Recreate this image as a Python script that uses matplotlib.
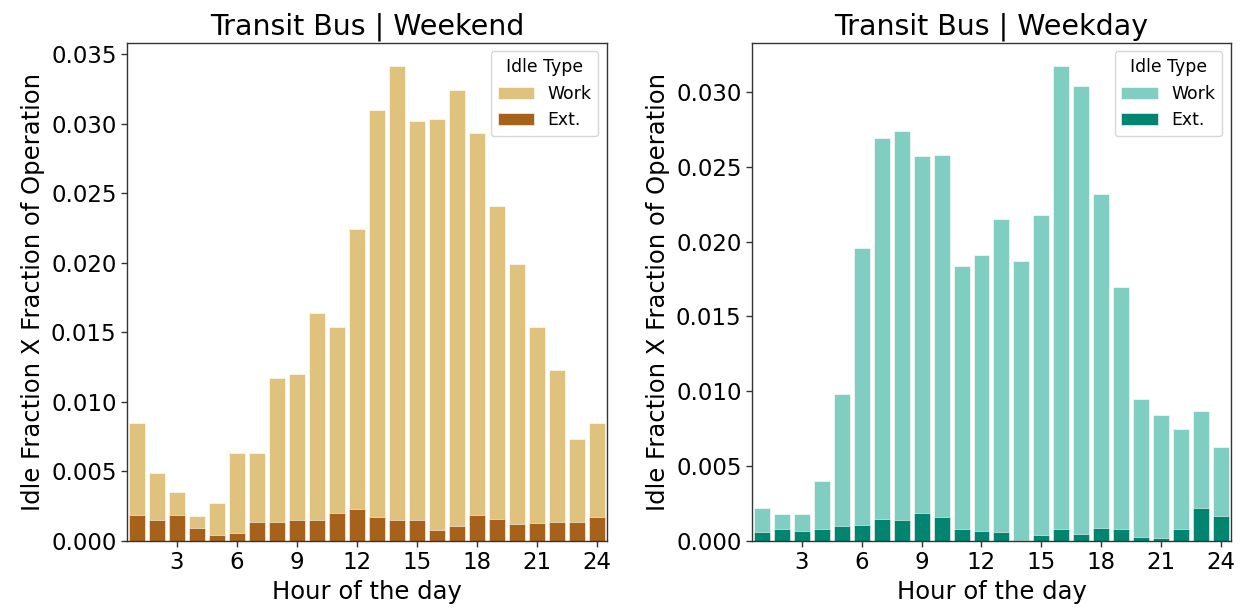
import matplotlib

matplotlib.use("Agg")
import matplotlib.pyplot as plt
import numpy as np

hours = list(range(1, 25))

weekend_work = [0.0085, 0.0049, 0.0035, 0.0018, 0.0027, 0.0063, 0.0063, 0.0117,
                0.0120, 0.0164, 0.0154, 0.0224, 0.0310, 0.0341, 0.0302, 0.0303,
                0.0324, 0.0293, 0.0241, 0.0199, 0.0154, 0.0123, 0.0073, 0.0085]
weekend_ext = [0.0019, 0.0015, 0.0019, 0.0009, 0.0004, 0.0006, 0.0014, 0.0014,
               0.0015, 0.0015, 0.0020, 0.0023, 0.0017, 0.0015, 0.0015, 0.0008,
               0.0011, 0.0019, 0.0016, 0.0012, 0.0013, 0.0014, 0.0014, 0.0017]

weekday_work = [0.0022, 0.0018, 0.0018, 0.0040, 0.0098, 0.0196, 0.0269, 0.0274,
                0.0257, 0.0258, 0.0184, 0.0191, 0.0215, 0.0187, 0.0218, 0.0317,
                0.0304, 0.0232, 0.0170, 0.0095, 0.0084, 0.0075, 0.0087, 0.0063]
weekday_ext = [0.0006, 0.0008, 0.0007, 0.0008, 0.0010, 0.0011, 0.0015, 0.0014,
               0.0019, 0.0016, 0.0008, 0.0007, 0.0006, 0.0001, 0.0004, 0.0008,
               0.0005, 0.0009, 0.0008, 0.0003, 0.0002, 0.0008, 0.0022, 0.0017]

tick_hours = [3, 6, 9, 12, 15, 18, 21, 24]

panels = [
    ("Transit Bus | Weekend", weekend_work, weekend_ext, "#dfc27d", "#a6611a"),
    ("Transit Bus | Weekday", weekday_work, weekday_ext, "#80cdc1", "#018571"),
]

plt.rcParams["font.family"] = "DejaVu Sans"

fig = plt.figure(figsize=(12.44, 6.12), dpi=100)
ax_l = fig.add_axes([0.1021, 0.116, 0.3859, 0.8142])
ax_r = fig.add_axes([0.6045, 0.116, 0.3850, 0.8142])

for ax, (title, work, ext, c_work, c_ext) in zip([ax_l, ax_r], panels):
    x = np.arange(len(hours))
    ax.bar(x, work, width=0.8, color=c_work, edgecolor="white", linewidth=0.4, label="Work")
    ax.bar(x, ext, width=0.8, color=c_ext, edgecolor="white", linewidth=0.4, label="Ext.")
    ax.set_xlim(-0.5, len(hours) - 0.5)
    ax.set_ylim(0, max(work) * 1.05)
    ax.set_xticks([hours.index(h) for h in tick_hours])
    ax.set_xticklabels([str(h) for h in tick_hours])
    ax.yaxis.set_major_formatter(matplotlib.ticker.FormatStrFormatter("%.3f"))
    ax.tick_params(labelsize=16.5, length=4, width=1, colors="#333333", labelcolor="black")
    for sp in ax.spines.values():
        sp.set_color("#333333")
        sp.set_linewidth(1)
    ax.set_title(title, fontsize=20.5)
    ax.set_xlabel("Hour of the day", fontsize=17.5)
    ax.set_ylabel("Idle Fraction X Fraction of Operation", fontsize=17.5)
    ax.legend(title="Idle Type", loc="upper right", fontsize=12.4, title_fontsize=12.4,
              framealpha=0.8, edgecolor="#cccccc", fancybox=True,
              handlelength=2.1, handletextpad=0.8)

fig.savefig("out.png", dpi=100)
